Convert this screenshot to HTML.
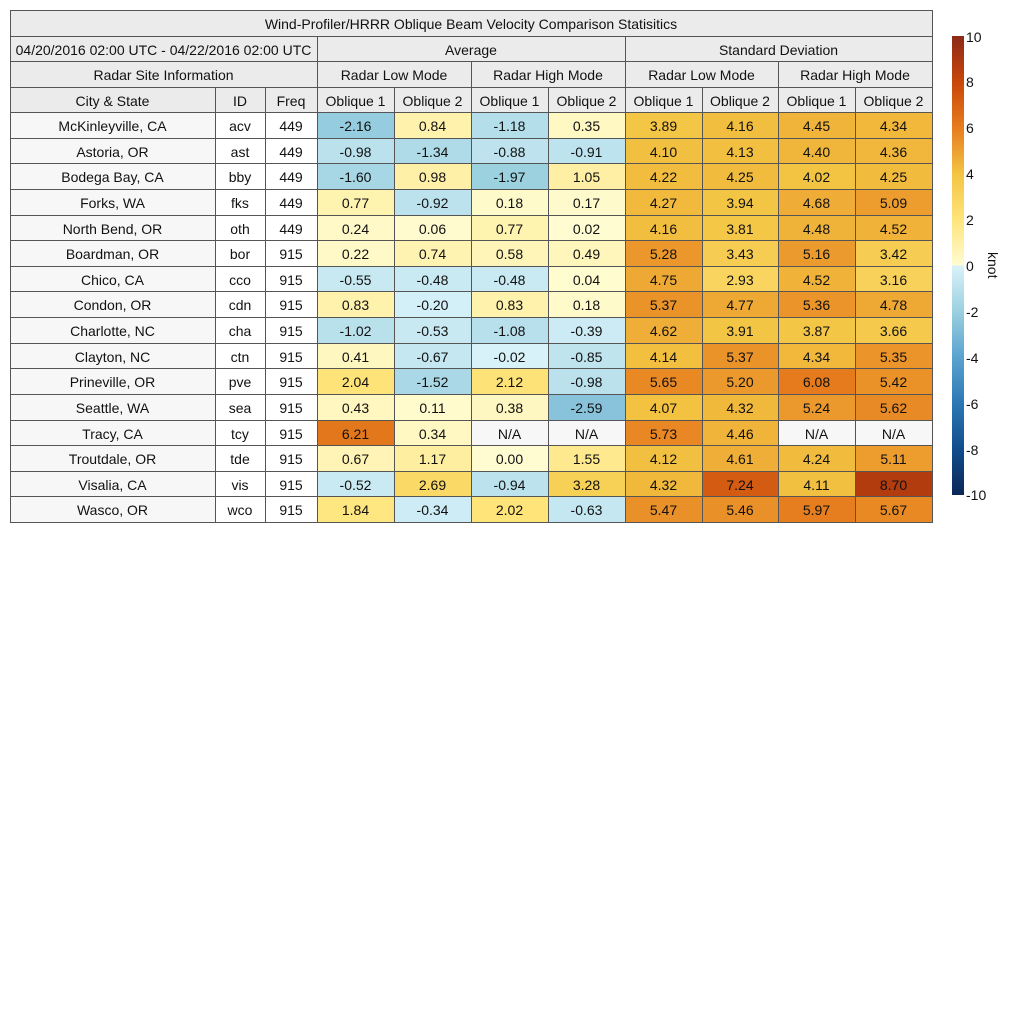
<!DOCTYPE html><html><head><meta charset="utf-8"><style>
body{margin:0;width:1024px;height:1024px;background:#fff;font-family:"Liberation Sans",sans-serif;position:relative;overflow:hidden}
.c{position:absolute;box-sizing:border-box;border:1px solid #555;display:flex;align-items:center;justify-content:center;font-size:14px;color:#111;margin:-0.5px 0 0 -0.5px;padding-top:2px}
</style></head><body><div id="r"></div>
<svg style="position:absolute;left:0;top:0" width="1024" height="1024">
<defs><linearGradient id="g" x1="0" y1="1" x2="0" y2="0">
<stop offset="0" stop-color="#0b2757"/><stop offset="0.1" stop-color="#114d8c"/><stop offset="0.2" stop-color="#2c78b5"/><stop offset="0.3" stop-color="#5aa3cf"/><stop offset="0.4" stop-color="#9bd0e0"/><stop offset="0.4999" stop-color="#d9f2f9"/><stop offset="0.5" stop-color="#fffcd2"/><stop offset="0.6" stop-color="#fee47a"/><stop offset="0.7" stop-color="#f3c442"/><stop offset="0.8" stop-color="#e67d1e"/><stop offset="0.9" stop-color="#c8460a"/><stop offset="1" stop-color="#8c2a18"/></linearGradient></defs>
<rect x="952" y="36" width="12" height="459" fill="url(#g)"/>
<g font-size="14" fill="#111">
<text x="966" y="42">10</text><text x="966" y="87">8</text><text x="966" y="133">6</text><text x="966" y="179">4</text><text x="966" y="225">2</text><text x="966" y="271">0</text><text x="966" y="317">-2</text><text x="966" y="363">-4</text><text x="966" y="409">-6</text><text x="966" y="455">-8</text><text x="966" y="500">-10</text>
<text x="0" y="0" transform="translate(988,252) rotate(90)">knot</text></g></svg>
<script>
var stops=[[-10,[11,39,87]],[-8,[17,77,140]],[-6,[44,120,181]],[-4,[90,163,207]],[-2,[155,208,224]],[-0.0001,[217,242,249]],[0,[255,252,210]],[2,[254,228,122]],[4,[243,196,66]],[6,[230,125,30]],[8,[200,70,10]],[10,[140,42,24]]];
function col(v){if(v<=-10)return 'rgb(11,39,87)';for(var i=0;i<stops.length-1;i++){var a=stops[i],b=stops[i+1];if(v>=a[0]&&v<=b[0]){var f=(v-a[0])/(b[0]-a[0]||1);return 'rgb('+a[1].map((x,k)=>Math.round(x+(b[1][k]-x)*f)).join(',')+')';}}return 'rgb(140,42,24)';}
var X=[10,215,265,317,394,471,548,625,702,778,855,932];
var h='';function cell(x1,x2,y1,y2,txt,bg){h+='<div class="c" style="left:'+x1+'px;top:'+y1+'px;width:'+(x2-x1+1)+'px;height:'+(y2-y1+1)+'px;background:'+bg+'">'+txt+'</div>';}
var hb='#ebebeb';
cell(10,932,10,36,'Wind-Profiler/HRRR Oblique Beam Velocity Comparison Statisitics',hb);
cell(10,317,36,61,'04/20/2016 02:00 UTC - 04/22/2016 02:00 UTC',hb);
cell(317,625,36,61,'Average',hb);cell(625,932,36,61,'Standard Deviation',hb);
cell(10,317,61,87,'Radar Site Information',hb);
cell(317,471,61,87,'Radar Low Mode',hb);cell(471,625,61,87,'Radar High Mode',hb);cell(625,778,61,87,'Radar Low Mode',hb);cell(778,932,61,87,'Radar High Mode',hb);
var hd=['City &amp; State','ID','Freq','Oblique 1','Oblique 2','Oblique 1','Oblique 2','Oblique 1','Oblique 2','Oblique 1','Oblique 2'];
for(var i=0;i<11;i++)cell(X[i],X[i+1],87,112,hd[i],hb);
var D=[["McKinleyville, CA","acv",449,-2.16,0.84,-1.18,0.35,3.89,4.16,4.45,4.34],
["Astoria, OR","ast",449,-0.98,-1.34,-0.88,-0.91,4.10,4.13,4.40,4.36],
["Bodega Bay, CA","bby",449,-1.60,0.98,-1.97,1.05,4.22,4.25,4.02,4.25],
["Forks, WA","fks",449,0.77,-0.92,0.18,0.17,4.27,3.94,4.68,5.09],
["North Bend, OR","oth",449,0.24,0.06,0.77,0.02,4.16,3.81,4.48,4.52],
["Boardman, OR","bor",915,0.22,0.74,0.58,0.49,5.28,3.43,5.16,3.42],
["Chico, CA","cco",915,-0.55,-0.48,-0.48,0.04,4.75,2.93,4.52,3.16],
["Condon, OR","cdn",915,0.83,-0.20,0.83,0.18,5.37,4.77,5.36,4.78],
["Charlotte, NC","cha",915,-1.02,-0.53,-1.08,-0.39,4.62,3.91,3.87,3.66],
["Clayton, NC","ctn",915,0.41,-0.67,-0.02,-0.85,4.14,5.37,4.34,5.35],
["Prineville, OR","pve",915,2.04,-1.52,2.12,-0.98,5.65,5.20,6.08,5.42],
["Seattle, WA","sea",915,0.43,0.11,0.38,-2.59,4.07,4.32,5.24,5.62],
["Tracy, CA","tcy",915,6.21,0.34,null,null,5.73,4.46,null,null],
["Troutdale, OR","tde",915,0.67,1.17,0.00,1.55,4.12,4.61,4.24,5.11],
["Visalia, CA","vis",915,-0.52,2.69,-0.94,3.28,4.32,7.24,4.11,8.70],
["Wasco, OR","wco",915,1.84,-0.34,2.02,-0.63,5.47,5.46,5.97,5.67]];
for(var r=0;r<16;r++){var y1=Math.round(112+r*25.625),y2=Math.round(112+(r+1)*25.625);
for(var c=0;c<11;c++){var v=D[r][c],bg='#f7f7f7',t=v;
if(c>=3){if(v===null){t='N/A';}else{t=v.toFixed(2);bg=col(v===0?0.0001:v);}}
else if(c>0)bg='#fff';
cell(X[c],X[c+1],y1,y2,t,c==0?'#f7f7f7':bg);}}
document.getElementById('r').innerHTML=h;
</script></body></html>
